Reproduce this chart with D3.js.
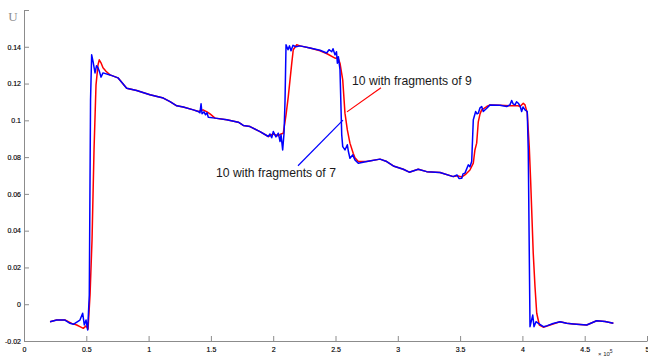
<!DOCTYPE html>
<html>
<head>
<meta charset="utf-8">
<script src="https://cdn.jsdelivr.net/npm/d3@7"></script>
<style>
  body { margin: 0; background: #fff; }
  svg { display: block; }
  .tick text { font-family: "Liberation Sans", Arial, sans-serif; font-size: 7px; fill: #000; stroke: #000; stroke-width: 0.15; }
  .domain, .tick line { stroke: #8c8c8c; }
</style>
</head>
<body>
<svg width="648" height="358"></svg>
<script>
// x in units of 1e5, y is U
var xTicks = [0, 0.5, 1, 1.5, 2, 2.5, 3, 3.5, 4, 4.5, 5];
var xTickLabels = ["0", "0.5", "1", "1.5", "2", "2.5", "3", "3.5", "4", "4.5", "5"];
var yTicks = [-0.02, 0, 0.02, 0.04, 0.06, 0.08, 0.1, 0.12, 0.14, 0.16];
var yTickLabels = ["-0.02", "0", "0.02", "0.04", "0.06", "0.08", "0.1", "0.12", "0.14", ""];

var seriesNames = ["10 with fragments of 9", "10 with fragments of 7"];

// 10 with fragments of 9 (red)
var frag9 = [
  [0.209, -0.0095], [0.262, -0.0086], [0.329, -0.0086], [0.383, -0.0104], [0.423, -0.0113],
  [0.449, -0.0122], [0.476, -0.0131], [0.498, -0.0118], [0.514, -0.0135], [0.530, 0.0051],
  [0.546, 0.035], [0.562, 0.084], [0.578, 0.1193], [0.594, 0.1302], [0.604, 0.1329],
  [0.618, 0.1313], [0.634, 0.1286], [0.658, 0.1267], [0.690, 0.1247], [0.754, 0.1231],
  [0.824, 0.1175], [0.904, 0.1162], [1.011, 0.1139], [1.118, 0.1121], [1.172, 0.1102],
  [1.226, 0.1079], [1.278, 0.1072], [1.359, 0.1057], [1.399, 0.1048], [1.437, 0.1057],
  [1.469, 0.1046], [1.493, 0.1035], [1.533, 0.1012], [1.627, 0.1003], [1.720, 0.099],
  [1.760, 0.0972], [1.814, 0.0966], [1.894, 0.0939], [1.961, 0.0912], [1.998, 0.0926],
  [2.039, 0.0916], [2.063, 0.0926], [2.081, 0.093], [2.103, 0.103], [2.121, 0.1129],
  [2.135, 0.122], [2.149, 0.1311], [2.161, 0.1384], [2.189, 0.1411], [2.215, 0.1405],
  [2.295, 0.1393], [2.376, 0.1378], [2.432, 0.1362], [2.496, 0.1338], [2.520, 0.134],
  [2.536, 0.1311], [2.558, 0.122], [2.576, 0.1039], [2.595, 0.0948], [2.616, 0.0876],
  [2.642, 0.0821], [2.656, 0.0796], [2.683, 0.0776], [2.750, 0.0776], [2.857, 0.0789],
  [2.911, 0.0776], [2.964, 0.0752], [3.044, 0.0734], [3.092, 0.0718], [3.164, 0.0734],
  [3.232, 0.0721], [3.339, 0.0716], [3.445, 0.0694], [3.483, 0.0698], [3.515, 0.0692],
  [3.547, 0.0708], [3.579, 0.073], [3.606, 0.0767], [3.619, 0.0839], [3.633, 0.0876],
  [3.646, 0.0992], [3.660, 0.1035], [3.673, 0.1057], [3.692, 0.1065], [3.714, 0.1075],
  [3.740, 0.1084], [3.820, 0.1082], [3.900, 0.1079], [3.965, 0.1079], [3.981, 0.1075],
  [4.007, 0.1093], [4.021, 0.1084], [4.039, 0.1039], [4.055, 0.0857], [4.066, 0.0676],
  [4.087, 0.0277], [4.101, 0.0096], [4.115, -0.0049], [4.136, -0.0113], [4.168, -0.0125],
  [4.222, -0.0113], [4.270, -0.0102], [4.302, -0.0095], [4.355, -0.0104], [4.408, -0.0107],
  [4.516, -0.0113], [4.596, -0.009], [4.663, -0.0094], [4.730, -0.0104]
];

// 10 with fragments of 7 (blue)
var frag7 = [
  [0.209, -0.0095], [0.262, -0.0086], [0.329, -0.0086], [0.369, -0.0104], [0.396, -0.0109],
  [0.449, -0.0086], [0.471, -0.0049], [0.484, -0.0113], [0.498, -0.0086], [0.511, -0.014],
  [0.524, 0.005], [0.534, 0.111], [0.543, 0.1356], [0.554, 0.132], [0.570, 0.1258],
  [0.582, 0.1297], [0.594, 0.1286], [0.606, 0.1264], [0.618, 0.1235], [0.634, 0.1258],
  [0.690, 0.1247], [0.754, 0.1231], [0.824, 0.1175], [0.904, 0.1162], [1.011, 0.1139],
  [1.118, 0.1121], [1.172, 0.1102], [1.226, 0.1079], [1.278, 0.1072], [1.359, 0.1057],
  [1.399, 0.1048], [1.412, 0.1041], [1.421, 0.109], [1.429, 0.1036], [1.445, 0.1046],
  [1.457, 0.103], [1.469, 0.1041], [1.479, 0.1017], [1.533, 0.1012], [1.627, 0.1003],
  [1.720, 0.099], [1.760, 0.0972], [1.814, 0.0966], [1.894, 0.0939], [1.961, 0.0912],
  [1.974, 0.0926], [1.988, 0.0905], [2.001, 0.0939], [2.022, 0.091], [2.041, 0.093],
  [2.055, 0.0885], [2.063, 0.0921], [2.076, 0.0839], [2.087, 0.093], [2.095, 0.1111],
  [2.103, 0.1411], [2.119, 0.1384], [2.131, 0.1405], [2.143, 0.1378], [2.159, 0.1408],
  [2.183, 0.14], [2.215, 0.1405], [2.295, 0.1393], [2.376, 0.1381], [2.429, 0.1366],
  [2.448, 0.1384], [2.470, 0.1373], [2.480, 0.1389], [2.496, 0.1356], [2.508, 0.1373],
  [2.515, 0.1311], [2.523, 0.1346], [2.536, 0.1275], [2.550, 0.0921], [2.558, 0.0857],
  [2.576, 0.0839], [2.595, 0.0867], [2.604, 0.0829], [2.616, 0.0794], [2.638, 0.0812],
  [2.656, 0.0785], [2.683, 0.0767], [2.750, 0.0776], [2.857, 0.0789], [2.911, 0.0776],
  [2.964, 0.0752], [3.044, 0.0734], [3.092, 0.0718], [3.164, 0.0734], [3.232, 0.0721],
  [3.339, 0.0716], [3.445, 0.0694], [3.475, 0.0703], [3.491, 0.0684], [3.513, 0.0685],
  [3.523, 0.0709], [3.539, 0.0713], [3.566, 0.0758], [3.579, 0.0747], [3.593, 0.0776],
  [3.606, 0.1003], [3.625, 0.1048], [3.636, 0.1035], [3.646, 0.1039], [3.660, 0.1068],
  [3.673, 0.1075], [3.686, 0.1048], [3.714, 0.1066], [3.740, 0.1084], [3.820, 0.1082],
  [3.874, 0.1075], [3.900, 0.1084], [3.914, 0.1108], [3.925, 0.109], [3.941, 0.1084],
  [3.953, 0.1101], [3.967, 0.1093], [3.981, 0.1079], [3.994, 0.1048], [4.005, 0.1073],
  [4.021, 0.1057], [4.039, 0.1048], [4.047, 0.0839], [4.061, -0.0122], [4.083, -0.0059],
  [4.093, -0.0122], [4.109, -0.0095], [4.128, -0.0104], [4.168, -0.0122], [4.195, -0.0118],
  [4.246, -0.0105], [4.302, -0.0095], [4.355, -0.0104], [4.408, -0.0107], [4.516, -0.0113],
  [4.596, -0.009], [4.663, -0.0094], [4.730, -0.0104]
];

// annotation arrows: [from point on curve, to text], text anchor
var note9 = { line: [[2.592, 0.1046], [2.865, 0.1177]], text: [2.632, 0.1193] };
var note7 = { line: [[2.560, 0.1001], [2.199, 0.0753]], text: [1.541, 0.0693] };

var svg = d3.select('svg');
var x = d3.scaleLinear().domain([0, 5]).range([24, 647]);
var y = d3.scaleLinear().domain([-0.02, 0.16]).range([341, 10]);

var xAxis = d3.axisBottom(x).tickValues(xTicks)
  .tickFormat(function (d, i) { return xTickLabels[i]; })
  .tickSizeInner(-5).tickSizeOuter(0).tickPadding(6);
var yAxis = d3.axisLeft(y).tickValues(yTicks)
  .tickFormat(function (d, i) { return yTickLabels[i]; })
  .tickSizeInner(-5).tickSizeOuter(0).tickPadding(3);

svg.append('g').attr('transform', 'translate(0,' + y(-0.02) + ')').call(xAxis);
svg.append('g').attr('transform', 'translate(' + x(0) + ',0)').call(yAxis);

// y label at top of axis
svg.append('text').attr('x', 13).attr('y', 21).attr('text-anchor', 'middle')
  .attr('font-family', '"Liberation Serif", "DejaVu Serif", serif').attr('font-size', 13)
  .attr('fill', '#8c8c8c').text('U');

// x10^5 exponent
var ex = svg.append('text').attr('x', 598).attr('y', 356)
  .attr('font-family', '"Liberation Sans", Arial, sans-serif').attr('font-size', 6).attr('fill', '#262626');
ex.append('tspan').text('\u00d7 10');
ex.append('tspan').attr('dy', -3).attr('font-size', 5).text('5');

var line = d3.line().x(function (d) { return x(d[0]); }).y(function (d) { return y(d[1]); });

svg.append('path').datum(frag9).attr('d', line).attr('fill', 'none')
  .attr('stroke', '#ff0000').attr('stroke-width', 1.5).attr('stroke-linejoin', 'round');
svg.append('path').datum(frag7).attr('d', line).attr('fill', 'none')
  .attr('stroke', '#0000ff').attr('stroke-width', 1.5).attr('stroke-linejoin', 'round');

// annotations
svg.append('path').datum(note9.line).attr('d', line).attr('stroke', '#ff0000').attr('stroke-width', 1.2);
svg.append('path').datum(note7.line).attr('d', line).attr('stroke', '#0000ff').attr('stroke-width', 1.2);

svg.append('text').attr('x', x(note9.text[0])).attr('y', y(note9.text[1]))
  .attr('font-family', '"Liberation Sans", Arial, sans-serif').attr('font-size', 12.2)
  .attr('fill', '#1a1a1a').text(seriesNames[0]);
svg.append('text').attr('x', x(note7.text[0])).attr('y', y(note7.text[1]))
  .attr('font-family', '"Liberation Sans", Arial, sans-serif').attr('font-size', 12.2)
  .attr('fill', '#1a1a1a').text(seriesNames[1]);
</script>
</body>
</html>
